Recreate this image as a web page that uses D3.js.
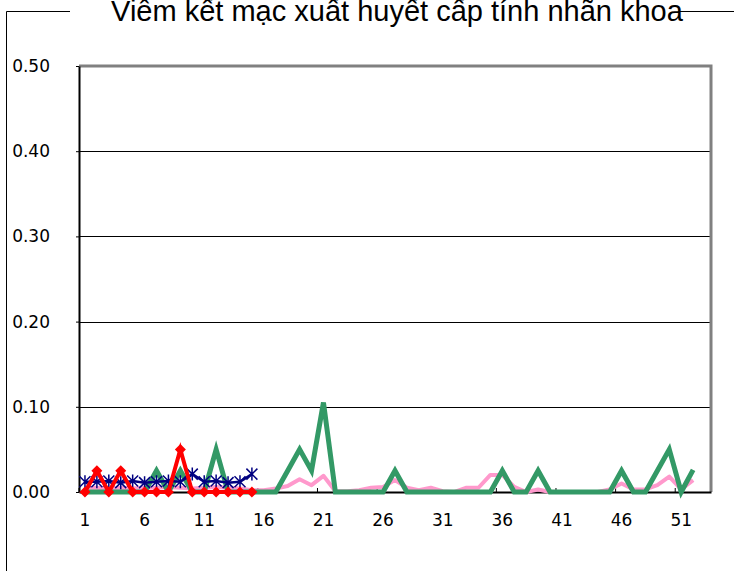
<!DOCTYPE html>
<html>
<head>
<meta charset="utf-8">
<script src="https://cdn.jsdelivr.net/npm/d3@7"></script>
<style>
  html, body { margin: 0; padding: 0; background: #fff; }
  svg { display: block; }
</style>
</head>
<body>
<svg id="chart" width="734" height="571"></svg>
<script>
const title = "Viêm kết mạc xuất huyết cấp tính nhãn khoa";
const weeks = d3.range(1, 54);
const xTickLabels = [1, 6, 11, 16, 21, 26, 31, 36, 41, 46, 51];
const yTickValues = [0, 0.1, 0.2, 0.3, 0.4, 0.5];

// pink series (weeks 1-52)
const seriesPink = [0.005, 0.005, 0.003, 0.005, 0.004, 0.005, 0.005, 0.006, 0.005, 0.004,
  0.005, 0.006, 0.005, 0.004, 0.002, 0.002, 0.004, 0.007, 0.015, 0.008,
  0.019, 0.001, 0.001, 0.002, 0.005, 0.006, 0.014, 0.005, 0.002, 0.005,
  0.001, 0, 0.005, 0.005, 0.02, 0.02, 0.006, 0, 0.003, 0,
  0, 0, 0, 0, 0.003, 0.01, 0.003, 0.003, 0.008, 0.018,
  0.003, 0.014];
// green series (weeks 1-52)
const seriesGreen = [0, 0, 0, 0, 0, 0, 0.025, 0, 0.025, 0,
  0, 0.05, 0, 0, 0, 0, 0, 0.025, 0.05, 0.025,
  0.105, 0, 0, 0, 0, 0, 0.025, 0, 0, 0,
  0, 0, 0, 0, 0, 0.025, 0, 0, 0.025, 0,
  0, 0, 0, 0, 0, 0.025, 0, 0, 0.025, 0.05,
  0, 0.026];
// navy series (weeks 1-15)
const seriesNavy = [0.012, 0.012, 0.013, 0.011, 0.013, 0.011, 0.012, 0.013, 0.012, 0.021,
  0.012, 0.013, 0.011, 0.012, 0.021];
// red series (weeks 1-15)
const seriesRed = [0, 0.025, 0, 0.025, 0, 0, 0, 0, 0.05, 0,
  0, 0, 0, 0, 0];

(function () {
const svg = d3.select("#chart");
const pLeft = 79, pRight = 711, pTop = 66, pBottom = 492;

const x = d3.scaleBand().domain(weeks).range([pLeft, pRight]).paddingInner(0).paddingOuter(0);
const y = d3.scaleLinear().domain([0, 0.5]).range([pBottom, pTop]);
const cx = w => x(w) + x.bandwidth() / 2;

// outer chart border
svg.append("path").attr("d", "M6.5,571 L6.5,11.5 L734,11.5")
  .attr("fill", "none").attr("stroke", "#000").attr("stroke-width", 1);

// title with white background
svg.append("rect").attr("x", 70).attr("y", 0).attr("width", 610).attr("height", 24).attr("fill", "#fff");
svg.append("text").attr("x", 397).attr("y", 21)
  .attr("text-anchor", "middle")
  .attr("font-family", "Liberation Sans, Arial, sans-serif")
  .attr("font-size", 29)
  .attr("fill", "#000")
  .text(title);

// gridlines
svg.append("g").selectAll("line").data(yTickValues.filter(v => v > 0 && v < 0.5)).join("line")
  .attr("x1", pLeft).attr("x2", pRight)
  .attr("y1", d => Math.round(y(d)) + 0.5).attr("y2", d => Math.round(y(d)) + 0.5)
  .attr("stroke", "#000").attr("stroke-width", 1);

// plot frame (top & right gray)
svg.append("path").attr("d", `M${pLeft},${pTop} L${pRight},${pTop} L${pRight},${pBottom}`)
  .attr("fill", "none").attr("stroke", "#808080").attr("stroke-width", 3);

// y axis
const yAxis = d3.axisLeft(y).tickValues(yTickValues).tickFormat(d3.format(".2f"))
  .tickSizeInner(3).tickSizeOuter(0).tickPadding(26);
const gy = svg.append("g").attr("transform", `translate(${pLeft},0)`).call(yAxis);
gy.select(".domain").attr("stroke", "#000").attr("stroke-width", 2);
gy.selectAll(".tick line").attr("stroke", "#000");
gy.selectAll("text").attr("font-family", "DejaVu Sans, sans-serif").attr("font-size", 17).attr("fill", "#000");

// x axis labels
const xAxis = d3.axisBottom(x).tickValues(xTickLabels).tickSize(0).tickPadding(22);
const gx = svg.append("g").attr("transform", `translate(0,${pBottom})`).call(xAxis);
gx.select(".domain").attr("stroke", "#000").attr("stroke-width", 2);
gx.selectAll("text").attr("font-family", "DejaVu Sans, sans-serif").attr("font-size", 17).attr("fill", "#000");
// x tick marks at category boundaries (inside)
svg.append("g").selectAll("line").data(xTickLabels).join("line")
  .attr("x1", d => x(d)).attr("x2", d => x(d))
  .attr("y1", pBottom).attr("y2", pBottom - 4)
  .attr("stroke", "#000").attr("stroke-width", 1);

const line = d3.line().x((d, i) => cx(i + 1)).y(d => y(d));

// pink
svg.append("path").datum(seriesPink).attr("d", line)
  .attr("fill", "none").attr("stroke", "#ff99cc").attr("stroke-width", 4).attr("stroke-linejoin", "round");
// green
svg.append("path").datum(seriesGreen).attr("d", line)
  .attr("fill", "none").attr("stroke", "#339966").attr("stroke-width", 5).attr("stroke-linejoin", "miter");
// navy
svg.append("path").datum(seriesNavy).attr("d", line)
  .attr("fill", "none").attr("stroke", "#000080").attr("stroke-width", 2.5);
const r = 5.5;
svg.append("g").selectAll("path").data(seriesNavy).join("path")
  .attr("transform", (d, i) => `translate(${cx(i + 1)},${y(d)})`)
  .attr("d", `M${-r},${-r}L${r},${r}M${-r},${r}L${r},${-r}M0,${-r - 1}L0,${r + 1}`)
  .attr("stroke", "#000080").attr("stroke-width", 1.5).attr("fill", "none");
// red
svg.append("path").datum(seriesRed).attr("d", line)
  .attr("fill", "none").attr("stroke", "#ff0000").attr("stroke-width", 4);
const dr = 5.5;
svg.append("g").selectAll("path").data(seriesRed).join("path")
  .attr("transform", (d, i) => `translate(${cx(i + 1)},${y(d)})`)
  .attr("d", `M0,${-dr}L${dr},0L0,${dr}L${-dr},0Z`)
  .attr("fill", "#ff0000");
})();
</script>
</body>
</html>
